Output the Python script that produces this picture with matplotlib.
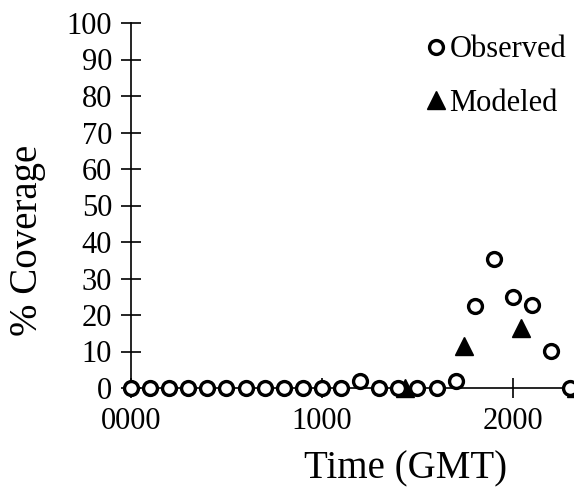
import matplotlib
matplotlib.use("Agg")
import matplotlib.pyplot as plt

plt.rcParams['font.family'] = ['Liberation Serif', 'DejaVu Serif']

# observed coverage, hourly
obs_time = [0, 100, 200, 300, 400, 500, 600, 700, 800, 900, 1000, 1100,
            1200, 1300, 1400, 1500, 1600, 1700, 1800, 1900, 2000, 2100, 2200, 2300]
obs_cov = [0, 0, 0, 0, 0, 0, 0, 0, 0, 0, 0, 0,
           2, 0, 0, 0, 0, 2, 22.5, 35.3, 25, 22.7, 10.1, 0]

# modeled coverage
mod_time = [1435, 1743, 2040, 2330]
mod_cov = [0, 11.4, 16.4, 0]

xticks = [0, 1000, 2000]
xticklabels = ['0000', '1000', '2000']
yticks = list(range(0, 101, 10))

fig = plt.figure(figsize=(5.74, 4.92), dpi=100)
ax = fig.add_axes([131/574, 104/492, 443/574, 365/492])

ax.plot(obs_time, obs_cov, 'o', ms=10, mfc='white', mec='black', mew=2.4,
        clip_on=False, zorder=5, label='Observed')
ax.plot(mod_time, mod_cov, '^', ms=13, color='black',
        clip_on=False, zorder=4, label='Modeled')

ax.set_xlim(0, 2320)
ax.set_ylim(0, 100)
ax.set_xticks(xticks)
ax.set_xticklabels(xticklabels)
ax.set_yticks(yticks)
ax.spines['top'].set_visible(False)
ax.spines['right'].set_visible(False)
ax.spines['left'].set_linewidth(1.2)
ax.spines['bottom'].set_linewidth(1.2)
ax.tick_params(direction='inout', length=15, width=1.2, labelsize=22, pad=6)

# label anchors: top of x label, right side of y label
ax.set_xlabel('Time (GMT)', fontsize=28)
ax.xaxis.set_label_coords((406 - 131) / 443, -(450 - 388) / 365)
ax.set_ylabel('% Coverage', fontsize=28)
ax.yaxis.set_label_coords(-(131 - 46) / 443, (388 - 240) / 365)

ax.legend(loc='upper right', frameon=False, fontsize=22, handlelength=0.5,
          handletextpad=0.2, labelspacing=0.8, borderaxespad=0.0,
          bbox_to_anchor=(1.01, 1.0))

fig.savefig('out.png', dpi=100)
